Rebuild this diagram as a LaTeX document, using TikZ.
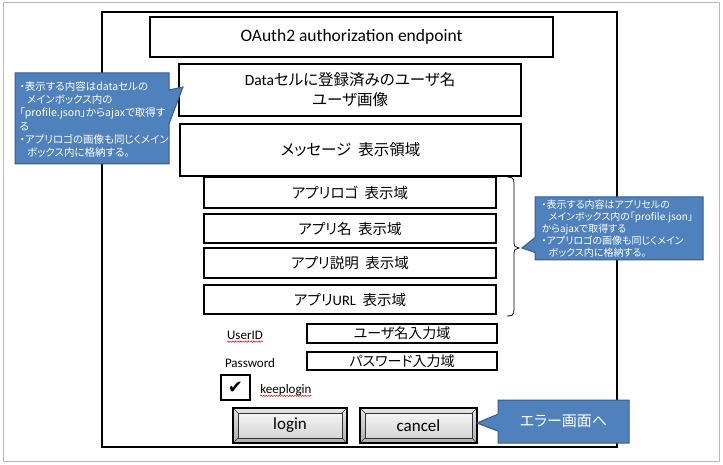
\documentclass[tikz,border=0pt]{standalone}
\usepackage{fontspec}
\setmainfont{Carlito}
\newfontfamily\jp[RawFeature=+palt]{Noto Sans CJK JP}
\newfontfamily\dvs{DejaVu Sans}
\usetikzlibrary{shapes.callouts,decorations.pathmorphing,calc}
\definecolor{cfill}{HTML}{4F81BD}
\definecolor{cline}{HTML}{385D8A}
\newcommand{\jgap}{\hspace{.45em}}
\begin{document}
\begin{tikzpicture}[x=1pt,y=-1pt,
  box/.style={draw, line width=1.6pt, fill=white, inner sep=0pt, align=center},
  lbl/.style={inner sep=0pt, font=\fontsize{13}{15}\selectfont},
  btn/.style={draw=black, line width=1.2pt, inner sep=0pt, top color=gray!20, bottom color=gray!65,
    font=\fontsize{17}{20}\selectfont,
    path picture={
      \draw[gray!40!black, line width=.5pt, top color=gray!3, bottom color=gray!38]
        ($(path picture bounding box.north west)+(5pt,-5pt)$) rectangle ($(path picture bounding box.south east)+(-5pt,5pt)$);
      \draw[gray!40!black, line width=.5pt] (path picture bounding box.north west) -- ++(5pt,-5pt);
      \draw[gray!40!black, line width=.5pt] (path picture bounding box.north east) -- ++(-5pt,-5pt);
      \draw[gray!40!black, line width=.5pt] (path picture bounding box.south west) -- ++(5pt,5pt);
      \draw[gray!40!black, line width=.5pt] (path picture bounding box.south east) -- ++(-5pt,5pt);
    }},
  callout/.style={rectangle callout, fill=cfill, draw=cline, line width=1pt, inner sep=0pt},
  ctext/.style={anchor=north west, align=left, inner sep=0pt, text=white},
  squig/.style={red, line width=.5pt, decorate, decoration={snake, amplitude=.6pt, segment length=2.6pt}}
]
\useasboundingbox (0,0) rectangle (723,465);
\fill[white] (0,0) rectangle (723,465);
\draw[gray!55, line width=1pt] (3,3) rectangle (719,461);

% main frame
\node[box, minimum width=515pt, minimum height=435pt] (main) at (359.5,229.5) {};

% top boxes
\node[box, minimum width=403pt, minimum height=40pt, font=\fontsize{17.5}{20}\selectfont] (title) at (351.5,37) {OAuth2 authorization endpoint};
\node[box, minimum width=342pt, minimum height=52pt, font=\fontsize{15.5}{20}\selectfont] (data) at (350,90)
  {Data{\jp セルに登録済みのユーザ名}\\{\jp ユーザ画像}};
\node[box, minimum width=341pt, minimum height=52pt, font=\jp\fontsize{15.5}{18}\selectfont] (msg) at (350.5,150) {メッセージ\jgap 表示領域};

% app boxes
\node[box, minimum width=292pt, minimum height=31pt, font=\jp\fontsize{14.5}{17}\selectfont] (app1) at (350,192.5) {アプリロゴ\jgap 表示域};
\node[box, minimum width=292pt, minimum height=29pt, font=\jp\fontsize{14.5}{17}\selectfont] (app2) at (350,228.5) {アプリ名\jgap 表示域};
\node[box, minimum width=292pt, minimum height=30pt, font=\jp\fontsize{14.5}{17}\selectfont] (app3) at (350,263) {アプリ説明\jgap 表示域};
\node[box, minimum width=292pt, minimum height=29pt, font=\jp\fontsize{14.5}{17}\selectfont] (app4) at (350,299.5) {アプリ{\rmfamily URL}\jgap 表示域};

% brace
\draw[line width=.8pt] (507,177) .. controls (512,177) and (514,178) .. (514,183) -- (514,243)
  .. controls (514,246) .. (519,248) .. controls (514,250) .. (514,253) -- (514,310)
  .. controls (514,315) and (512,316) .. (507,316);

% login form
\node[lbl] (uid) at (245,335) {UserID};
\node[lbl] (pwd) at (250,363) {Password};
\node[box, minimum width=190pt, minimum height=19pt, font=\jp\fontsize{14}{17}\selectfont] (uin) at (402,333.5) {ユーザ名入力域};
\node[box, minimum width=190pt, minimum height=18pt, font=\jp\fontsize{14}{17}\selectfont] (pin) at (402,361) {パスワード入力域};
\node[box, minimum width=29pt, minimum height=25pt, font=\dvs\fontsize{18}{20}\selectfont] (chk) at (235.5,387.5) {✔};
\node[lbl] (keep) at (286,390) {keeplogin};
\draw[squig] ($(uid.base west)+(0,-2.5pt)$) -- ($(uid.base east)+(0,-2.5pt)$);
\draw[squig] ($(keep.base west)+(0,-2.5pt)$) -- ($(keep.base east)+(0,-2.5pt)$);

% buttons
\node[btn, minimum width=114pt, minimum height=35pt] (login) at (290,425.5) {login};
\node[btn, minimum width=117pt, minimum height=35pt] (cancel) at (418.5,425.5) {cancel};

% callouts
\node[callout, minimum width=154pt, minimum height=91pt, callout absolute pointer={(183,87)}, callout pointer width=34pt] (lc) at (92,118.5) {};
\node[ctext, font=\jp\fontsize{10.5}{13.2}\selectfont] (lct) at ($(lc.north west)+(5pt,-9pt)$)
  {・表示する内容はdataセルの\\
   \hspace*{.7em}メインボックス内の\\
   「profile.json」からajaxで取得す\\
   る\\
   ・アプリロゴの画像も同じくメイン\\
   \hspace*{.7em}ボックス内に格納する。};

\node[callout, minimum width=168pt, minimum height=63pt, callout absolute pointer={(522,248)}, callout pointer width=15pt] (rc) at (619,228.5) {};
\node[ctext, font=\jp\fontsize{10}{12.2}\selectfont] (rct) at ($(rc.north west)+(7pt,-3pt)$)
  {・表示する内容はアプリセルの\\
   \hspace*{.7em}メインボックス内の「profile.json」\\
   からajaxで取得する\\
   ・アプリロゴの画像も同じくメイン\\
   \hspace*{.7em}ボックス内に格納する。};

\node[callout, minimum width=131pt, minimum height=43pt, callout absolute pointer={(477,423)}, callout pointer width=17pt,
  text=white, font=\jp\fontsize{15}{18}\selectfont] (err) at (563.5,421.5) {エラー画面へ};
\end{tikzpicture}
\end{document}
